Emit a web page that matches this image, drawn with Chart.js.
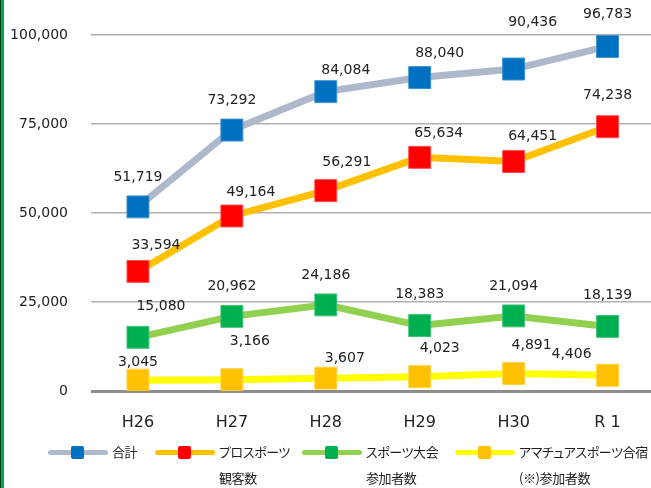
<!DOCTYPE html>
<html>
<head>
<meta charset="utf-8">
<script src="https://cdn.jsdelivr.net/npm/chart.js"></script>
<style>
  html, body { margin: 0; padding: 0; background: #fff; overflow: hidden; }
  #wrap { position: relative; width: 651px; height: 488px; overflow: hidden; }
  #myChart { position: absolute; left: 0; top: 0; }
  #frame { position: absolute; left: 0; top: 0; width: 3px; height: 488px;
           border-left: 1px solid #0b3d1a; background: #00a84f; }
  #legend { position: absolute; left: 0; top: 0; width: 651px; height: 488px; pointer-events: none;
            font-family: "Noto Sans CJK JP", sans-serif; font-size: 13px; color: #222;
            font-feature-settings: "palt"; }
  .item { position: absolute; top: 439px; height: 52px; }
  .item .ln { position: absolute; left: 0; top: 11px; width: 60px; height: 5px; border-radius: 3px; }
  .item .mk { position: absolute; left: 23px; top: 7px; width: 13px; height: 13px; border-radius: 2px; }
  .item .tx { position: absolute; left: 64px; top: 0; white-space: pre; line-height: 26px; letter-spacing: -0.4px; }
</style>
</head>
<body>
<div id="wrap">
  <canvas id="myChart" width="671" height="488"></canvas>
  <div id="legend"></div>
  <div id="frame"></div>
</div>
<script>
  var years = ["H26", "H27", "H28", "H29", "H30", "R 1"]
  var total = [51719, 73292, 84084, 88040, 90436, 96783]
  var proSports = [33594, 49164, 56291, 65634, 64451, 74238]
  var tournament = [15080, 20962, 24186, 18383, 21094, 18139]
  var amateurCamp = [3045, 3166, 3607, 4023, 4891, 4406]
  var yTicks = [0, 25000, 50000, 75000, 100000]

  // where each value label sits relative to its marker
  var labelShift = [
    [[0,-30],[0,-30],[20,-21],[20,-24],[19,-47],[0,-32]],
    [[18,-26],[19,-24],[21,-28],[19,-24],[19,-25],[0,-31]],
    [[23,-31],[0,-30],[0,-30],[0,-31],[0,-30],[0,-31]],
    [[0,-18],[18,-38],[19,-20],[20,-28],[18,-28],[-36,-21]]
  ]
  var legendLeft = [48, 155, 302, 455]

  var valueLabels = {
    id: 'valueLabels',
    afterDatasetsDraw: function(chart) {
      var ctx = chart.ctx
      ctx.save()
      ctx.font = '14px "DejaVu Sans"'
      ctx.fillStyle = '#222'
      ctx.textAlign = 'center'
      ctx.textBaseline = 'middle'
      chart.data.datasets.forEach(function(ds, i) {
        chart.getDatasetMeta(i).data.forEach(function(pt, j) {
          var s = labelShift[i][j]
          ctx.fillText(ds.data[j].toLocaleString('en-US'), pt.x + s[0], pt.y + s[1])
        })
      })
      ctx.restore()
    }
  }

  var htmlLegend = {
    id: 'htmlLegend',
    afterUpdate: function(chart) {
      var box = document.getElementById('legend')
      box.innerHTML = ''
      chart.data.datasets.forEach(function(ds, i) {
        var item = document.createElement('div')
        item.className = 'item'
        item.style.left = legendLeft[i] + 'px'
        var ln = document.createElement('span')
        ln.className = 'ln'
        ln.style.background = ds.borderColor
        var mk = document.createElement('span')
        mk.className = 'mk'
        mk.style.background = ds.pointBackgroundColor
        var tx = document.createElement('span')
        tx.className = 'tx'
        tx.textContent = ds.label
        item.appendChild(ln)
        item.appendChild(mk)
        item.appendChild(tx)
        box.appendChild(item)
      })
    }
  }

  function series(label, values, lineColor, markColor, edgeColor) {
    return {
      label: label,
      data: values,
      borderColor: lineColor,
      borderWidth: 7,
      pointStyle: 'rect',
      pointRadius: 15.5,
      pointHoverRadius: 15.5,
      pointBackgroundColor: markColor,
      pointBorderColor: edgeColor,
      pointBorderWidth: 1,
      tension: 0,
      fill: false
    }
  }

  var ctx = document.getElementById("myChart");
  var myChart = new Chart(ctx, {
    type: 'line',
    data: {
      labels: years,
      datasets: [
        series('合計', total, '#adb9ca', '#0070c0', '#3d8fd0'),
        series('プロスポーツ\n観客数', proSports, '#ffc000', '#ff0000', '#ff4a4a'),
        series('スポーツ大会\n参加者数', tournament, '#92d050', '#00b050', '#40c07a'),
        series('アマチュアスポーツ合宿\n(※)参加者数', amateurCamp, '#ffff00', '#ffc000', '#ffd040')
      ]
    },
    options: {
      responsive: false,
      animation: false,
      layout: { padding: { top: 35, right: 0, left: 0, bottom: 0 } },
      plugins: { legend: { display: false }, tooltip: { enabled: false } },
      scales: {
        x: {
          offset: true,
          grid: { display: false, drawTicks: false },
          border: { display: false },
          ticks: { padding: 22, color: '#222', font: { family: 'DejaVu Sans', size: 16 } },
          afterFit: function(scale) { scale.height = 97 }
        },
        y: {
          min: 0,
          max: 100000,
          afterBuildTicks: function(scale) { scale.ticks = yTicks.map(function(v) { return { value: v } }) },
          grid: {
            drawTicks: false,
            color: function(c) { return c.tick && c.tick.value === 0 ? '#8c8c8c' : '#b0b0b0' },
            lineWidth: function(c) { return c.tick && c.tick.value === 0 ? 3 : 1.5 }
          },
          border: { display: false },
          ticks: {
            padding: 23,
            color: '#222',
            font: { family: 'DejaVu Sans', size: 14 },
            callback: function(v) { return v.toLocaleString('en-US') }
          },
          afterFit: function(scale) { scale.width = 91 }
        }
      }
    },
    plugins: [valueLabels, htmlLegend]
  });
</script>
</body>
</html>
